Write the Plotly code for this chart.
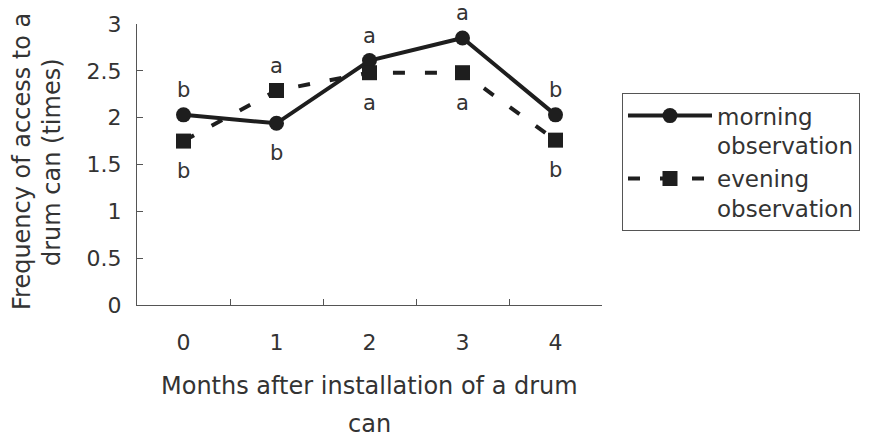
import plotly.graph_objects as go

months = ["0", "1", "2", "3", "4"]
morning = [2.03, 1.94, 2.61, 2.85, 2.03]
evening = [1.75, 2.29, 2.48, 2.48, 1.76]
morning_letters = ["b", "b", "a", "a", "b"]
morning_letter_side = ["above", "below", "above", "above", "above"]
evening_letters = ["b", "a", "a", "a", "b"]
evening_letter_side = ["below", "above", "below", "below", "below"]
y_ticks = [0, 0.5, 1, 1.5, 2, 2.5, 3]
y_tick_text = ["0", "0.5", "1", "1.5", "2", "2.5", "3"]
y_title_lines = ["Frequency of access to a", "drum can (times)"]
x_title_lines = ["Months after installation of a drum", "can"]

FONT = "DejaVu Sans"
INK = "#1e1e1e"
TXT = "#333333"

fig = go.Figure()
fig.add_trace(go.Scatter(
    x=months, y=morning, mode="lines+markers", name="morning<br>observation",
    line=dict(color=INK, width=4), marker=dict(symbol="circle", size=15, color=INK),
))
fig.add_trace(go.Scatter(
    x=months, y=evening, mode="lines+markers", name="evening<br>observation",
    line=dict(color=INK, width=4, dash="12px,20px"), marker=dict(symbol="square", size=15, color=INK),
))

annotations = []
for xs, ys, letters, sides in [(months, morning, morning_letters, morning_letter_side),
                                (months, evening, evening_letters, evening_letter_side)]:
    for xv, yv, lt, sd in zip(xs, ys, letters, sides):
        annotations.append(dict(
            x=xv, y=yv, xref="x", yref="y", text=lt, showarrow=False,
            yshift=25 if sd == "above" else -30,
            font=dict(family=FONT, size=21, color=TXT),
        ))

for i, line in enumerate(y_title_lines):
    annotations.append(dict(
        text=line, xref="paper", yref="paper",
        x=(22 + 30 * i - 137) / 465, y=(305 - 162) / 281, textangle=-90, showarrow=False,
        font=dict(family=FONT, size=24, color=TXT), xanchor="center", yanchor="middle"))
for i, line in enumerate(x_title_lines):
    annotations.append(dict(
        text=line, xref="paper", yref="paper",
        x=0.5, y=(305 - (386 + 38 * i)) / 281, showarrow=False, yanchor="middle", xanchor="center",
        font=dict(family=FONT, size=24, color=TXT)))

fig.update_layout(
    width=870, height=439,
    margin=dict(l=137, r=268, t=24, b=134, autoexpand=False),
    paper_bgcolor="white", plot_bgcolor="white",
    font=dict(family=FONT, size=22, color=TXT),
    showlegend=True,
    legend=dict(
        x=1.043, y=0.754, xanchor="left", yanchor="top",
        bordercolor="#555555", borderwidth=1, bgcolor="white",
        font=dict(family=FONT, size=23, color=TXT),
        itemwidth=84, tracegroupgap=11, valign="top",
    ),
    xaxis=dict(
        type="category", range=[-0.5, 4.5], tickson="boundaries",
        ticks="inside", ticklen=6, tickcolor="#555555",
        showline=True, linecolor="#555555", linewidth=1,
        showgrid=False, zeroline=False,
        tickfont=dict(family=FONT, size=22, color=TXT),
        ticklabelstandoff=18,
    ),
    yaxis=dict(
        range=[0, 3], tickvals=y_ticks, ticktext=y_tick_text,
        ticks="inside", ticklen=6, tickcolor="#555555",
        showline=True, linecolor="#555555", linewidth=1,
        showgrid=False, zeroline=False,
        tickfont=dict(family=FONT, size=22, color=TXT),
        ticklabelstandoff=10,
    ),
    annotations=annotations,
)

fig.write_html("out.html")
